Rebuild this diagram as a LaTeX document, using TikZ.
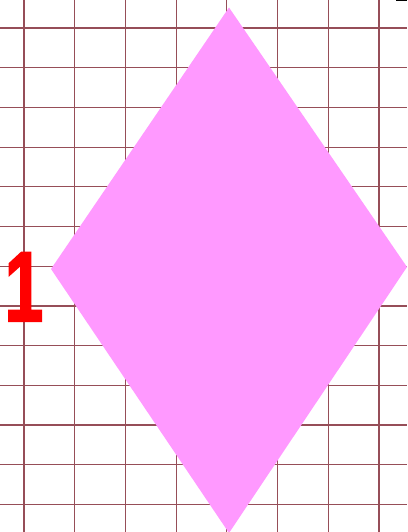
\documentclass[tikz,border=0pt]{standalone}
\usepackage{fontspec}
\setmainfont{Liberation Sans}
\newfontfamily\numfont[FakeBold=2.5]{Liberation Sans Bold}
\definecolor{gridred}{RGB}{150,78,88}
\definecolor{lozpink}{RGB}{255,153,255}
\definecolor{numred}{RGB}{255,0,0}
\begin{document}
\begin{tikzpicture}[x=1pt,y=-1pt]

      \useasboundingbox (0,0) rectangle (407,532);

      \begin{scope}[every path/.style={draw=gridred,line width=1.2pt}]
        \foreach \i in {0,...,7}
          \path (24+50.7*\i,0) -- (24+50.7*\i,532);
        \foreach \j in {0,...,12}
          \path (0,28+39.7*\j) -- (407,28+39.7*\j);
      \end{scope}

      \coordinate (top)    at (229,7.5);
      \coordinate (left)   at (51,269);
      \coordinate (bottom) at (229,533);
      \coordinate (right)  at (407,267);
      \fill[lozpink] (top) -- (left) -- (bottom) -- (right) -- cycle;

      \node[text=numred,font=\numfont\fontsize{99}{99}\selectfont,
            inner sep=0pt,anchor=base,xscale=0.7] (one) at (24,321) {1};

      \fill[black] (396,0) rectangle (407,1.5);

    \end{tikzpicture}
\end{document}
